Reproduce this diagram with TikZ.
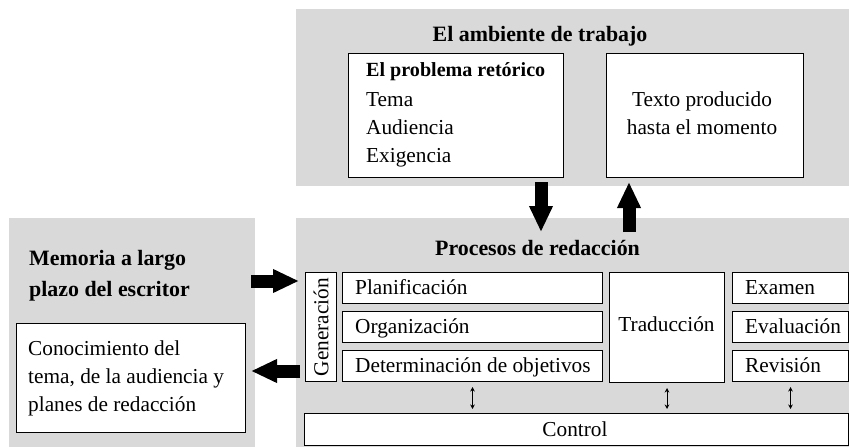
\documentclass[tikz,border=0pt]{standalone}
\usepackage{fontspec}
\setmainfont{Liberation Serif}
\usetikzlibrary{arrows.meta}
\definecolor{panelgray}{RGB}{217,217,217}
\tikzset{
  panel/.style={fill=panelgray, draw=none, anchor=north west, inner sep=0pt},
  box/.style={fill=white, draw=black, line width=1pt, anchor=north west, inner sep=0pt},
  txt/.style={inner sep=0pt, font=\fontsize{21.3}{28}\selectfont},
  btxt/.style={inner sep=0pt, font=\fontsize{21.9}{28}\selectfont\bfseries},
  hbtxt/.style={inner sep=0pt, font=\fontsize{20.1}{28}\selectfont\bfseries},
  bigarrow/.style={line width=13pt, -{Triangle[width=22pt,length=26pt]}},
  smallarrow/.style={line width=0.9pt, {Stealth[length=4.5pt,width=4.5pt]}-{Stealth[length=4.5pt,width=4.5pt]}, shorten <=5pt, shorten >=4pt}
}
\begin{document}
\begin{tikzpicture}[x=1pt,y=-1pt]
\useasboundingbox[fill=white] (0,0) rectangle (849,447);

% panels
\node[panel, minimum width=553pt, minimum height=177pt] (env) at (296,9) {};
\node[panel, minimum width=553pt, minimum height=229pt] (proc) at (296,218) {};
\node[panel, minimum width=246pt, minimum height=229pt] (mem) at (9,218) {};

% top panel
\node[btxt, anchor=base] (envtitle) at (540,41.7) {El ambiente de trabajo};
\node[box, minimum width=215pt, minimum height=124pt] (prob) at (348,53) {};
\node[hbtxt, anchor=base west] (prob1) at (366,76.7) {El problema retórico};
\node[txt, anchor=base west] (prob2) at (366,106) {Tema};
\node[txt, anchor=base west] (prob3) at (366,134.3) {Audiencia};
\node[txt, anchor=base west] (prob4) at (366,162.7) {Exigencia};
\node[box, minimum width=197pt, minimum height=124pt] (texto) at (606,53) {};
\node[txt, anchor=base] (texto1) at (702,106) {Texto producido};
\node[txt, anchor=base] (texto2) at (702,134.3) {hasta el momento};

% memory panel
\node[btxt, anchor=base west] (mem1) at (29,265) {Memoria a largo};
\node[btxt, anchor=base west] (mem2) at (29,296) {plazo del escritor};
\node[box, minimum width=229pt, minimum height=109pt] (con) at (16,323) {};
\node[txt, anchor=base west] (con1) at (28,355) {Conocimiento del};
\node[txt, anchor=base west] (con2) at (28,383.3) {tema, de la audiencia y};
\node[txt, anchor=base west] (con3) at (28,411.7) {planes de redacción};

% process panel
\node[btxt, anchor=base] (proctitle) at (537.5,255.5) {Procesos de redacción};
\node[box, minimum width=31pt, minimum height=109pt] (gen) at (305,272) {};
\node[txt, rotate=90] (gentxt) at (gen.center) {Generación};
\node[box, minimum width=260pt, minimum height=31pt] (plan) at (342,272) {};
\node[box, minimum width=260pt, minimum height=31pt] (org) at (342,311) {};
\node[box, minimum width=260pt, minimum height=31pt] (det) at (342,350) {};
\node[txt, anchor=base west] (plantxt) at (355,294.3) {Planificación};
\node[txt, anchor=base west] (orgtxt) at (355,333.3) {Organización};
\node[txt, anchor=base west] (dettxt) at (355,372.3) {Determinación de objetivos};
\node[box, minimum width=115pt, minimum height=110pt] (trad) at (609,272) {};
\node[txt, anchor=base] (tradtxt) at (666.5,331.7) {Traducción};
\node[box, minimum width=116pt, minimum height=31pt] (exa) at (732,272) {};
\node[box, minimum width=116pt, minimum height=31pt] (eva) at (732,311) {};
\node[box, minimum width=116pt, minimum height=31pt] (rev) at (732,350) {};
\node[txt, anchor=base west] (exatxt) at (745,294.3) {Examen};
\node[txt, anchor=base west] (evatxt) at (745,333.3) {Evaluación};
\node[txt, anchor=base west] (revtxt) at (745,372.3) {Revisión};
\node[box, minimum width=544pt, minimum height=32pt] (ctrl) at (304,413) {};
\node[txt, anchor=base] (ctrltxt) at (575,436.7) {Control};

% small arrows
\draw[smallarrow] (det.south) -- (det.south |- ctrl.north);
\draw[smallarrow] (trad.south) -- (trad.south |- ctrl.north);
\draw[smallarrow] (rev.south) -- (rev.south |- ctrl.north);

% big arrows
\coordinate (d1) at (541,182); \coordinate (d2) at (541,232);
\coordinate (u1) at (629,232); \coordinate (u2) at (629,182);
\coordinate (r1) at (251,281); \coordinate (r2) at (299,281);
\coordinate (l1) at (300,371); \coordinate (l2) at (251,371);
\draw[bigarrow] (d1) -- (d2);
\draw[bigarrow] (u1) -- (u2);
\draw[bigarrow] (r1) -- (r2);
\draw[bigarrow] (l1) -- (l2);
\end{tikzpicture}
\end{document}
